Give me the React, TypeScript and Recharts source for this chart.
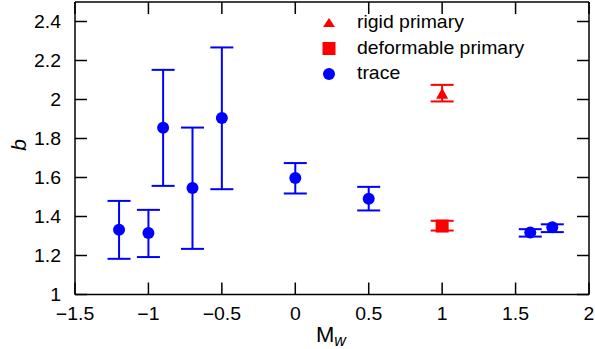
import React from "react";
import { ScatterChart, Scatter, XAxis, YAxis, ErrorBar, Legend, Label } from "recharts";

const xTicks = [-1.5, -1, -0.5, 0, 0.5, 1, 1.5, 2];
const yTicks = [1, 1.2, 1.4, 1.6, 1.8, 2, 2.2, 2.4];

const traceM = [-1.2, -1.0, -0.9, -0.7, -0.5, 0, 0.5, 1.6, 1.75];
const traceB = [1.332, 1.315, 1.855, 1.546, 1.905, 1.597, 1.491, 1.318, 1.345];
const traceLow = [1.183, 1.192, 1.557, 1.234, 1.54, 1.518, 1.431, 1.297, 1.32];
const traceHigh = [1.48, 1.434, 2.152, 1.856, 2.267, 1.674, 1.552, 1.335, 1.36];

const rigidM = [1.0];
const rigidB = [2.03];
const rigidLow = [1.99];
const rigidHigh = [2.075];

const deformM = [1.0];
const deformB = [1.351];
const deformLow = [1.328];
const deformHigh = [1.378];

const seriesNames = ["rigid primary", "deformable primary", "trace"];

const build = (m: number[], b: number[], lo: number[], hi: number[]) =>
  m.map((mv, i) => ({ m: mv, b: b[i], err: [b[i] - lo[i], hi[i] - b[i]] }));

const traceData = build(traceM, traceB, traceLow, traceHigh);
const rigidData = build(rigidM, rigidB, rigidLow, rigidHigh);
const deformData = build(deformM, deformB, deformLow, deformHigh);

const FONT = '"Liberation Sans", Arial, Helvetica, sans-serif';
const BLUE = "#0000ff";
const RED = "#ff0000";
const SX = 1.08;
const FS = 18;

const fmt = (v: number) => String(v).replace("-", "\u2212");

const Circle = (p: any) => <circle cx={p.cx} cy={p.cy} r={6} fill={BLUE} />;
const Square = (p: any) => <rect x={p.cx - 6.5} y={p.cy - 6.5} width={13} height={13} fill={RED} />;
const Tri = (p: any) => (
  <polygon points={`${p.cx},${p.cy - 6} ${p.cx + 6},${p.cy + 5} ${p.cx - 6},${p.cy + 5}`} fill={RED} />
);

const STxt = ({ x, y, anchor, children, size = FS, italic = false }: any) => (
  <text
    transform={`translate(${x},${y}) scale(${SX},1)`}
    textAnchor={anchor}
    fontSize={size}
    fontStyle={italic ? "italic" : "normal"}
    fontFamily={FONT}
    fill="#000"
  >
    {children}
  </text>
);

const XTick = (p: any) => (
  <STxt x={p.x} y={p.y + 11.7} anchor="middle">
    {fmt(p.payload.value)}
  </STxt>
);
const YTick = (p: any) => (
  <STxt x={p.x} y={p.y + 6.4} anchor="end">
    {fmt(p.payload.value)}
  </STxt>
);
const NoTick = () => <g />;

const LegendContent = () => (
  <svg width={595} height={100} style={{ display: "block" }}>
    <polygon points="329,18 335,27 323,27" fill={RED} />
    <rect x={322.5} y={42} width={13} height={13} fill={RED} />
    <circle cx={329} cy={74} r={6} fill={BLUE} />
    <STxt x={357} y={28} anchor="start">{seriesNames[0]}</STxt>
    <STxt x={357} y={53.5} anchor="start">{seriesNames[1]}</STxt>
    <STxt x={357} y={79} anchor="start">{seriesNames[2]}</STxt>
  </svg>
);

const XLabel = (props: any) => {
  const vb = props.viewBox || {};
  const cx = vb.x + vb.width / 2;
  return (
    <text transform={`translate(${cx - 16},342)`} fontFamily={FONT} fill="#000">
      <tspan fontSize={22}>M</tspan>
      <tspan fontSize={16} fontStyle="italic" dy={4}>w</tspan>
    </text>
  );
};

const YLabel = () => (
  <text
    x={18}
    y={145}
    fontSize={21}
    fontStyle="italic"
    fontFamily={FONT}
    fill="#000"
    textAnchor="middle"
    dominantBaseline="central"
    transform="rotate(-90 18 145)"
  >
    b
  </text>
);

const axisCommon = {
  stroke: "#000",
  strokeWidth: 1.5,
  tickSize: -12,
};

export default function App() {
  return (
    <div style={{ position: "absolute", left: 0, top: 0 }}>
      <ScatterChart width={595} height={349} margin={{ top: 0, right: 0, bottom: 0, left: 0 }}>
        <XAxis
          xAxisId={0}
          type="number"
          dataKey="m"
          domain={[-1.5, 2]}
          ticks={xTicks}
          interval={0}
          height={54.5}
          tickMargin={26}
          tick={<XTick />}
          allowDataOverflow
          {...axisCommon}
        >
          <Label content={<XLabel />} />
        </XAxis>
        <XAxis
          xAxisId="top"
          orientation="top"
          type="number"
          dataKey="m"
          domain={[-1.5, 2]}
          ticks={xTicks}
          interval={0}
          height={2}
          tick={<NoTick />}
          allowDataOverflow
          {...axisCommon}
        />
        <YAxis
          yAxisId={0}
          type="number"
          dataKey="b"
          domain={[1, 2.5]}
          ticks={yTicks}
          interval={0}
          width={75}
          tickMargin={26}
          tick={<YTick />}
          allowDataOverflow
          {...axisCommon}
        >
          <Label content={<YLabel />} />
        </YAxis>
        <YAxis
          yAxisId="right"
          orientation="right"
          type="number"
          dataKey="b"
          domain={[1, 2.5]}
          ticks={yTicks}
          interval={0}
          width={6}
          tick={<NoTick />}
          allowDataOverflow
          {...axisCommon}
        />
        <Legend
          layout="vertical"
          align="center"
          verticalAlign="middle"
          content={<LegendContent />}
          wrapperStyle={{ position: "absolute", left: 0, top: 0, width: 595, height: 100 }}
        />
        <Scatter name={seriesNames[2]} data={traceData} xAxisId={0} yAxisId={0} shape={Circle} isAnimationActive={false}>
          <ErrorBar dataKey="err" direction="y" width={11.5} stroke={BLUE} strokeWidth={2} isAnimationActive={false} />
        </Scatter>
        <Scatter name={seriesNames[0]} data={rigidData} xAxisId={0} yAxisId={0} shape={Tri} isAnimationActive={false}>
          <ErrorBar dataKey="err" direction="y" width={11.5} stroke={RED} strokeWidth={2} isAnimationActive={false} />
        </Scatter>
        <Scatter name={seriesNames[1]} data={deformData} xAxisId={0} yAxisId={0} shape={Square} isAnimationActive={false}>
          <ErrorBar dataKey="err" direction="y" width={11.5} stroke={RED} strokeWidth={2} isAnimationActive={false} />
        </Scatter>
      </ScatterChart>
    </div>
  );
}
